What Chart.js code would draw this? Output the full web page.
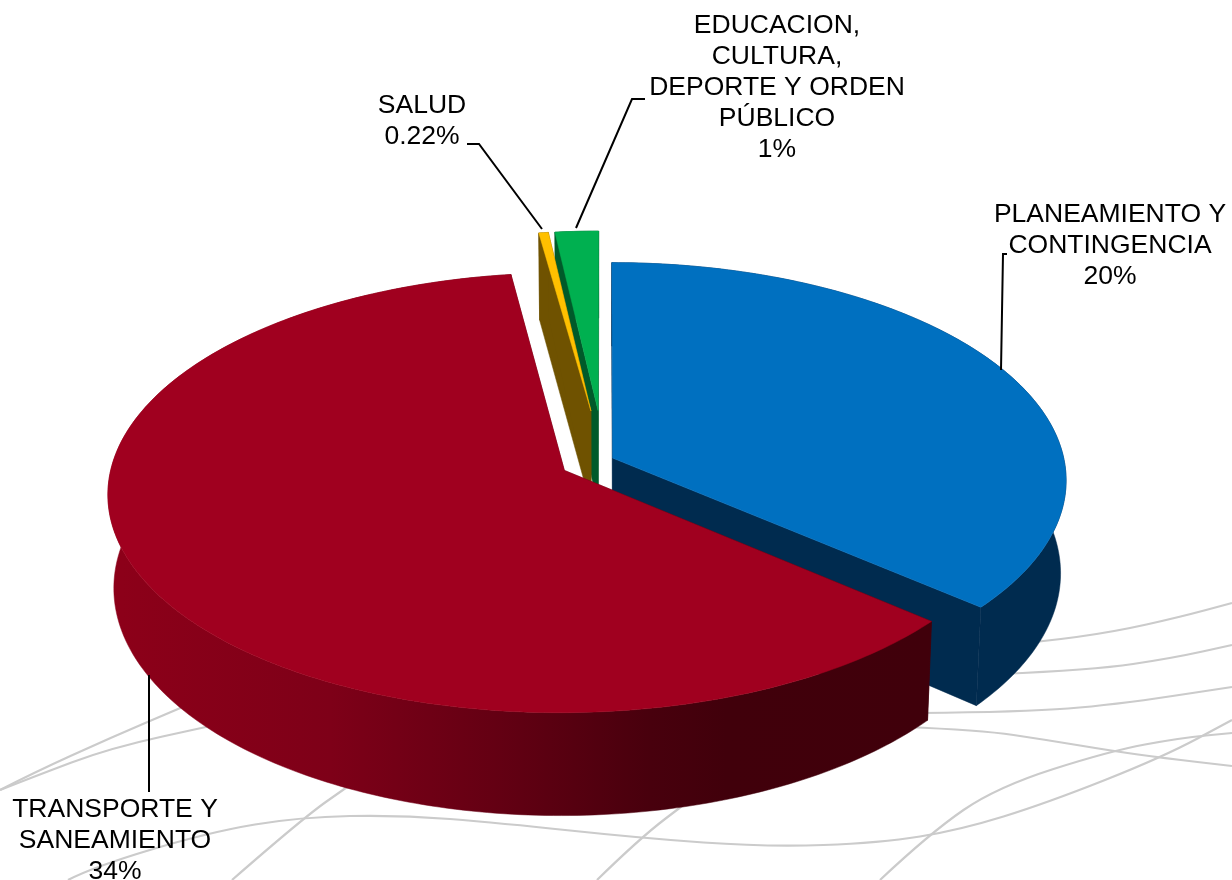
<!DOCTYPE html>
<html>
<head>
<meta charset="utf-8">
<style>
  html, body { margin: 0; padding: 0; background: #fff; }
  canvas { display: block; }
</style>
<script src="https://cdn.jsdelivr.net/npm/chart.js@4/dist/chart.umd.js"></script>
</head>
<body>
<canvas id="myChart" width="1232" height="880"></canvas>
<script>
// chart data, clockwise from 12 o'clock
var categories = ['PLANEAMIENTO Y CONTINGENCIA', 'TRANSPORTE Y SANEAMIENTO', 'SALUD', 'EDUCACION, CULTURA, DEPORTE Y ORDEN PÚBLICO']
var values = [20, 34, 0.22, 1]
var valueLabels = ['20%', '34%', '0.22%', '1%']
var wrappedNames = [
  ['PLANEAMIENTO Y', 'CONTINGENCIA'],
  ['TRANSPORTE Y', 'SANEAMIENTO'],
  ['SALUD'],
  ['EDUCACION,', 'CULTURA,', 'DEPORTE Y ORDEN', 'PÚBLICO']
]

// styles
var topColors = ['#0070c0', '#a0001f', '#ffc000', '#00b050']
var wallColors = ['#002b4f', null, '#6f5200', '#005a2a']
var explode = [9.5, 45, 106, 106]
var radiusScale = [1, 1, 0.955, 0.955]
var depthScale = [1, 1, 1.06, 1.06]
var drawOrder = [0, 3, 2, 1]
var redWallStops = [[0, '#8d0019'], [0.27, '#7e0018'], [0.47, '#640013'], [0.66, '#48000d'], [0.75, '#41000b'], [1, '#40000b']]

// label block anchors and their leader lines
var labelCenters = [[1110, 215], [115, 810], [422, 106], [777, 26]]
var lineGap = 31
var leaders = [
  [[1007, 254], [1003, 254], [1001, 370]],
  [[149, 675], [149, 792]],
  [[467, 144], [479, 144], [542, 229]],
  [[645, 99], [632, 99], [576, 228]]
]

// grey ribbons of the slide background
var ribbons = [
  [[1000, 645], [1040, 642], [1113, 632], [1180, 617], [1232, 603]],
  [[1000, 674], [1093, 670], [1173, 658], [1232, 645]],
  [[920, 713], [1023, 712], [1113, 705], [1232, 687]],
  [[905, 727], [980, 730], [1047, 740], [1113, 751], [1163, 758], [1232, 766]],
  [[880, 880], [930, 833], [997, 787], [1110, 751], [1180, 738], [1232, 733]],
  [[68, 880], [93, 867], [210, 832], [300, 817], [400, 815], [500, 823], [640, 838], [767, 847], [880, 843], [960, 830], [1047, 803], [1163, 757], [1232, 720]],
  [[597, 880], [640, 838], [690, 800]],
  [[232, 880], [303, 818], [350, 785]],
  [[0, 790], [33, 773], [110, 738], [185, 706]],
  [[0, 790], [33, 777], [110, 748], [215, 725]]
]

// perspective of the pie plane
var tilt = 0.4775
var recede = 0.101
var depth = 92
var taper = 0.012

function project (center, R, u, v, z) {
  var den = 1 - recede * v / R
  return {
    x: center.x + u * (1 - taper * z) / den,
    y: center.y + (tilt * v + z * depth) / den
  }
}

function slicePoint (el, a, r, z) {
  var mid = (el.startAngle + el.endAngle) / 2
  var o = el.options.offset
  return project(el, el.outerRadius, r * Math.cos(a) + o * Math.cos(mid), r * Math.sin(a) + o * Math.sin(mid), z)
}

function arcPoints (el, r, z, reverse) {
  var pts = []
  var steps = Math.max(4, Math.ceil((el.endAngle - el.startAngle) * 60))
  for (var s = 0; s <= steps; s++) {
    var k = reverse ? 1 - s / steps : s / steps
    var a = el.startAngle + (el.endAngle - el.startAngle) * k
    pts.push(slicePoint(el, a, r, z))
  }
  return pts
}

function fillPoly (ctx, pts, color) {
  ctx.fillStyle = color
  ctx.strokeStyle = color
  ctx.lineWidth = 0.5
  ctx.beginPath()
  pts.forEach(function (p, i) {
    if (i == 0) ctx.moveTo(p.x, p.y)
    else ctx.lineTo(p.x, p.y)
  })
  ctx.closePath()
  ctx.fill()
  ctx.stroke()
}

var backgroundPlugin = {
  id: 'ribbons',
  beforeDraw (chart) {
    var ctx = chart.ctx
    ctx.save()
    ctx.filter = 'blur(0.6px)'
    ctx.strokeStyle = '#cbcbcb'
    ctx.lineWidth = 2.2
    ribbons.forEach(function (r) {
      ctx.beginPath()
      ctx.moveTo(r[0][0], r[0][1])
      for (var i = 1; i < r.length - 1; i++) {
        ctx.quadraticCurveTo(r[i][0], r[i][1], (r[i][0] + r[i + 1][0]) / 2, (r[i][1] + r[i + 1][1]) / 2)
      }
      ctx.lineTo(r[r.length - 1][0], r[r.length - 1][1])
      ctx.stroke()
    })
    ctx.restore()
  }
}

// draws the arcs chart.js laid out, but as solid tilted wedges
var pie3dPlugin = {
  id: 'pie3d',
  beforeDatasetDraw () {
    return false
  },
  afterDatasetsDraw (chart) {
    var ctx = chart.ctx
    var arcs = chart.getDatasetMeta(0).data
    ctx.save()
    drawOrder.forEach(function (i) {
      var el = arcs[i]
      var r = el.outerRadius * radiusScale[i]
      var z = depthScale[i]
      var wallFill = wallColors[i]
      if (!wallFill) {
        var wx = arcPoints(el, r, 0, false).map(function (p) { return p.x })
        wallFill = ctx.createLinearGradient(Math.min.apply(null, wx), 0, Math.max.apply(null, wx), 0)
        redWallStops.forEach(function (s) { wallFill.addColorStop(s[0], s[1]) })
      }
      // outer wall
      fillPoly(ctx, arcPoints(el, r, 0, false).concat(arcPoints(el, r, z, true)), wallFill)
      // the two cut faces
      ;[el.startAngle, el.endAngle].forEach(function (a) {
        fillPoly(ctx, [
          slicePoint(el, a, 0, 0), slicePoint(el, a, r, 0),
          slicePoint(el, a, r, z), slicePoint(el, a, 0, z)
        ], wallFill)
      })
      // top face
      fillPoly(ctx, [slicePoint(el, el.startAngle, 0, 0)].concat(arcPoints(el, r, 0, false)), el.options.backgroundColor)
    })
    ctx.restore()
  }
}

var labelPlugin = {
  id: 'labels',
  afterDraw (chart) {
    var ctx = chart.ctx
    ctx.save()
    ctx.strokeStyle = '#000'
    ctx.lineWidth = 2
    leaders.forEach(function (l) {
      ctx.beginPath()
      l.forEach(function (p, i) {
        if (i == 0) ctx.moveTo(p[0], p[1])
        else ctx.lineTo(p[0], p[1])
      })
      ctx.stroke()
    })
    ctx.fillStyle = '#000'
    ctx.font = '26.5px "Liberation Sans", Arial, sans-serif'
    ctx.textAlign = 'center'
    ctx.textBaseline = 'middle'
    wrappedNames.forEach(function (lines, i) {
      var all = lines.concat([valueLabels[i]])
      all.forEach(function (t, n) {
        ctx.fillText(t, labelCenters[i][0], labelCenters[i][1] + n * lineGap)
      })
    })
    ctx.restore()
  }
}

var chart = new Chart(document.getElementById('myChart').getContext('2d'), {
  type: 'pie',
  data: {
    labels: categories,
    datasets: [{
      data: values,
      backgroundColor: topColors,
      offset: explode,
      borderWidth: 0
    }]
  },
  options: {
    responsive: false,
    animation: false,
    radius: 451.5,
    layout: { padding: { right: 24, top: 40 } },
    events: [],
    plugins: { legend: { display: false }, tooltip: { enabled: false } }
  },
  plugins: [backgroundPlugin, pie3dPlugin, labelPlugin]
})
</script>
</body>
</html>
